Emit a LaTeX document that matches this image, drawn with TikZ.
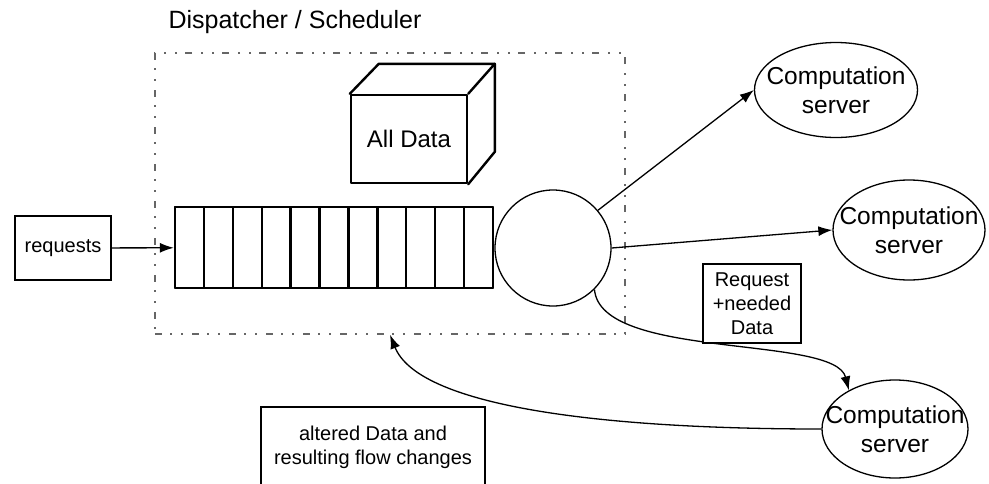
\documentclass[tikz,border=0pt]{standalone}
\usepackage{fontspec}
\setmainfont{Liberation Sans}
\usepackage{tikz}
\usetikzlibrary{arrows.meta,shapes.geometric}

\tikzset{
    link/.style={line width=1.3pt, -{Latex[length=14pt,width=10pt]}},
    plain/.style={draw, line width=1.3pt, fill=white, align=center, font=\fontsize{20}{24}\selectfont},
    server/.style={ellipse, draw, line width=1.3pt, inner sep=0pt},
    servertext/.style={align=center, font=\fontsize{24.5}{29}\selectfont},
    heavy/.style={line width=2.4pt, line join=round, line cap=round},
    dispatch/.style={draw=black!60, line width=1.5pt, dash pattern=on 7pt off 8pt on 2pt off 9pt on 2pt off 9pt},
}

\begin{document}
\begin{tikzpicture}[x=1pt, y=-1pt]
    \useasboundingbox (0,0) rectangle (989,483);

    % dispatcher frame
    \node[font=\fontsize{25}{29}\selectfont] (title) at (295,22) {Dispatcher / Scheduler};
    \node[dispatch, minimum width=470pt, minimum height=281pt] (disp) at (390,193.5) {};

    % the data store
    \node[draw, heavy, minimum width=116pt, minimum height=88pt, font=\fontsize{24}{28}\selectfont] (alldata) at (409,139) {All Data};
    \draw[heavy] (alldata.north west) -- ++(29,-30) -- ++(116,0) -- (alldata.north east);
    \draw[heavy] (alldata.north west) ++(145,-30) -- ++(0,88) -- (alldata.south east);

    % queue of requests
    \node[draw, heavy, minimum width=318pt, minimum height=81pt] (queue) at (334,247.5) {};
    \foreach \i in {0,2,...,10}
        \draw[heavy] (175+\i*28.9,207) rectangle (175+\i*28.9+28.9,288);

    \node[circle, draw, line width=1.3pt, minimum size=116pt] (sched) at (553,248) {};

    \node[plain, minimum width=96pt, minimum height=64pt, inner sep=2pt] (requests) at (63,248) {requests};

    % servers
    \node[server, minimum width=163pt, minimum height=95pt,
          label={[servertext]center:Computation\\server}] (server1) at (836,90) {};
    \node[server, minimum width=152pt, minimum height=100pt,
          label={[servertext]center:Computation\\server}] (server2) at (909,230) {};
    \node[server, minimum width=146pt, minimum height=98pt,
          label={[servertext]center:Computation\\server}] (server3) at (895,429) {};

    \draw[link] (requests) -- (queue);
    \draw[link] (sched.40) -- (server1.west);
    \draw[link] (sched.east) -- (server2.west);
    \draw[link] (sched.-45) .. controls +(6,71) and +(-14,-56) .. (server3.140);
    \draw[link] (server3.west) .. controls +(-230,0) and +(28,70) .. (disp.south);

    % labels on the flows
    \node[plain, minimum width=98pt, minimum height=79pt, inner sep=1pt] (reqdata) at (752,303.5) {Request\\+needed\\Data};
    \node[plain, minimum width=224pt, minimum height=81pt, inner sep=1pt] (altered) at (373,447.5) {altered Data and\\resulting flow changes};
\end{tikzpicture}
\end{document}
